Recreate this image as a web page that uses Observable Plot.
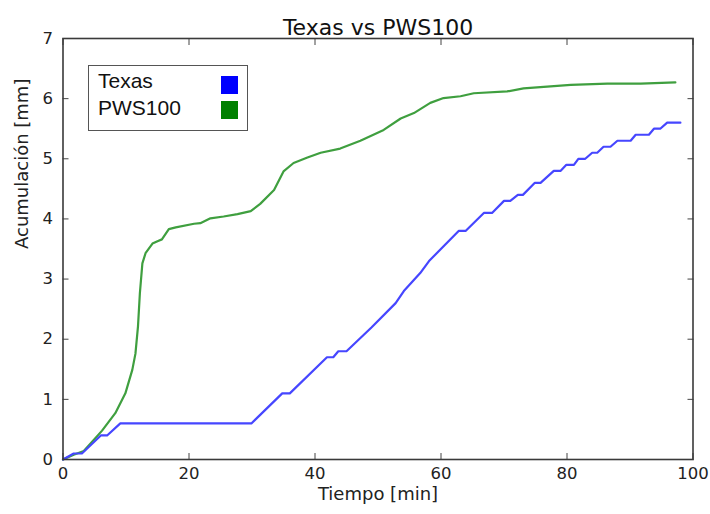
<!DOCTYPE html>
<html>
<head>
<meta charset="utf-8">
<script src="https://cdn.jsdelivr.net/npm/d3@7"></script>
<script src="https://cdn.jsdelivr.net/npm/@observablehq/plot@0.6"></script>
<style>
  html, body { margin: 0; padding: 0; background: #fff; }
  #wrap { position: relative; width: 710px; height: 514px; }
  #legend { position: absolute; left: 88px; top: 65px; width: 158px; height: 64px;
    border: 1.5px solid #555; background: #fff; font-family: "Liberation Sans", Arial, sans-serif;
    font-size: 21px; color: #111; }
  .row { position: absolute; left: 9px; }
  .sw { position: absolute; width: 17px; height: 18px; left: 132px; }
</style>
</head>
<body>
<div id="wrap"></div>
<script>
const title = "Texas vs PWS100";
const xLabel = "Tiempo [min]";
const yLabel = "Acumulación [mm]";
const xTicks = [0, 20, 40, 60, 80, 100];
const yTicks = [0, 1, 2, 3, 4, 5, 6, 7];
const seriesNames = ["Texas", "PWS100"];
const legendColors = ["#0000ff", "#008000"];
const lineColors = ["#4646ff", "#3f9f3f"];

const texasTime = [0, 1.7, 3.0, 6.0, 7.0, 9.1, 29.9, 34.8, 36.0, 41.9, 42.9, 43.7, 45.0, 49.0, 52.8, 54.1, 56.7, 58.1, 62.8, 63.9, 66.8, 68.1, 70.0, 71.0, 72.2, 73.0, 74.9, 75.8, 77.9, 79.0, 79.9, 81.1, 81.8, 82.9, 84.0, 84.8, 85.8, 86.9, 88.0, 90.1, 90.9, 93.0, 93.8, 94.8, 95.9, 98.0];
const texasAcc  = [0, 0.1, 0.1, 0.4, 0.4, 0.6, 0.6, 1.1, 1.1, 1.7, 1.7, 1.8, 1.8, 2.2, 2.6, 2.8, 3.1, 3.3, 3.8, 3.8, 4.1, 4.1, 4.3, 4.3, 4.4, 4.4, 4.6, 4.6, 4.8, 4.8, 4.9, 4.9, 5.0, 5.0, 5.1, 5.1, 5.2, 5.2, 5.3, 5.3, 5.4, 5.4, 5.5, 5.5, 5.6, 5.6];

const pwsTime = [0, 1.7, 3.3, 6.2, 8.3, 9.9, 11.0, 11.5, 11.9, 12.2, 12.6, 13.1, 14.2, 15.0, 15.7, 16.8, 17.9, 20.8, 21.8, 23.4, 25.5, 27.7, 29.8, 31.3, 33.5, 35.0, 36.6, 38.8, 40.9, 44.0, 47.2, 50.9, 53.6, 55.7, 58.3, 60.4, 63.1, 65.2, 70.5, 73.1, 80.6, 86.4, 91.7, 97.2];
const pwsAcc  = [0, 0.08, 0.14, 0.48, 0.77, 1.10, 1.49, 1.76, 2.21, 2.76, 3.26, 3.43, 3.59, 3.63, 3.66, 3.83, 3.86, 3.92, 3.93, 4.01, 4.04, 4.08, 4.13, 4.25, 4.48, 4.79, 4.93, 5.02, 5.10, 5.17, 5.30, 5.48, 5.67, 5.76, 5.93, 6.01, 6.04, 6.09, 6.12, 6.17, 6.23, 6.25, 6.25, 6.27];

const texas = texasTime.map((t, i) => ({t, v: texasAcc[i]}));
const pws = pwsTime.map((t, i) => ({t, v: pwsAcc[i]}));

const tickColor = "#222";
const chart = Plot.plot({
  width: 710,
  height: 514,
  marginTop: 38,
  marginLeft: 62.5,
  marginRight: 17.5,
  marginBottom: 55,
  style: {fontFamily: "DejaVu Sans, sans-serif", fontSize: "16.5px", color: tickColor, background: "#fff"},
  x: {domain: [0, 100]},
  y: {domain: [0, 7]},
  marks: [
    Plot.line(pws, {x: "t", y: "v", stroke: lineColors[1], strokeWidth: 2.2}),
    Plot.line(texas, {x: "t", y: "v", stroke: lineColors[0], strokeWidth: 2.2}),
    Plot.axisX(xTicks, {anchor: "bottom", tickSize: -6, tickPadding: 14, tickFormat: d3.format("d"), label: null, stroke: "#444"}),
    Plot.axisX(xTicks, {anchor: "top", tickSize: -6, tickFormat: () => "", label: null, stroke: "#444"}),
    Plot.axisY(yTicks, {anchor: "left", tickSize: -6, tickPadding: 16, tickFormat: d3.format("d"), label: null, stroke: "#444"}),
    Plot.axisY(yTicks, {anchor: "right", tickSize: -6, tickFormat: () => "", label: null, stroke: "#444"}),
    Plot.frame({stroke: "#3a3a3a", strokeWidth: 1.6}),
    Plot.text([title], {text: d => d, frameAnchor: "top", dy: -19, fontSize: 22, fill: "#111"}),
    Plot.text([xLabel], {text: d => d, frameAnchor: "bottom", dy: 40, fontSize: 18, fill: "#222"}),
    Plot.text([yLabel], {text: d => d, frameAnchor: "left", dx: -41, rotate: -90, fontSize: 18, fill: "#222"})
  ]
});
const wrap = document.getElementById("wrap");
wrap.appendChild(chart);

const legend = document.createElement("div");
legend.id = "legend";
seriesNames.forEach((name, i) => {
  const row = document.createElement("div");
  row.className = "row";
  row.style.top = (3 + i * 27) + "px";
  row.textContent = name;
  legend.appendChild(row);
  const sw = document.createElement("div");
  sw.className = "sw";
  sw.style.top = (10 + i * 25) + "px";
  sw.style.background = legendColors[i];
  legend.appendChild(sw);
});
wrap.appendChild(legend);
</script>
</body>
</html>
